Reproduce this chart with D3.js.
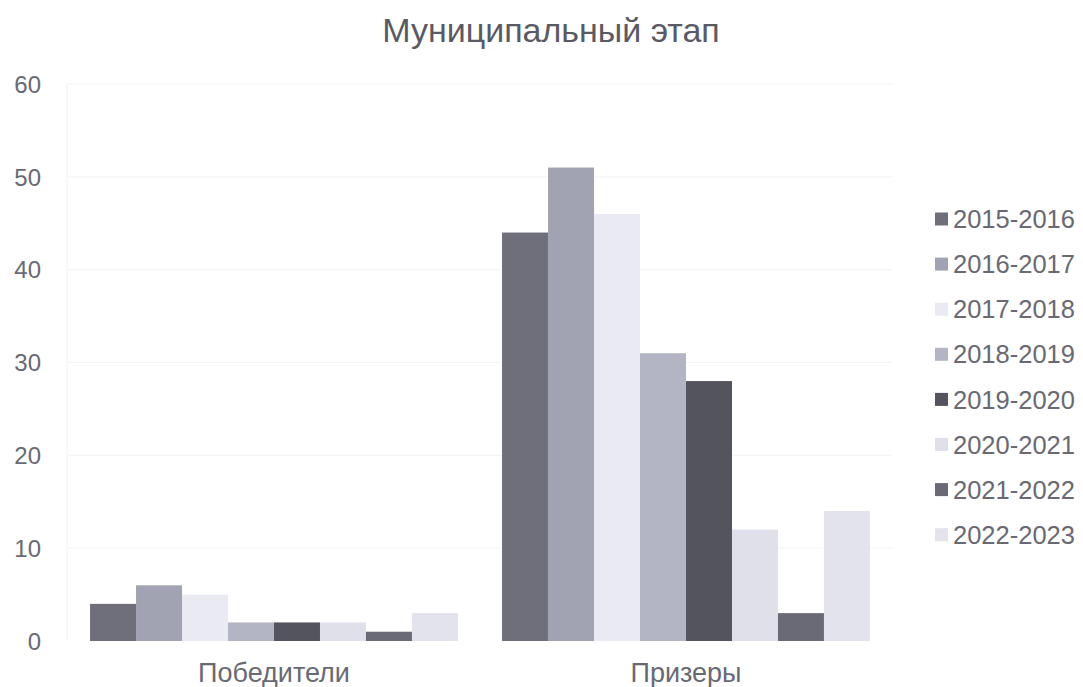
<!DOCTYPE html>
<html><head><meta charset="utf-8">
<script src="https://cdn.jsdelivr.net/npm/d3@7"></script>
<style>body{margin:0;background:#fff;}svg{display:block;font-family:"Liberation Sans",Arial,sans-serif;}</style>
</head><body>
<svg id="c" width="1083" height="687"></svg>
<script>
const categories = ["Победители", "Призеры"];
const seasons = ["2015-2016","2016-2017","2017-2018","2018-2019","2019-2020","2020-2021","2021-2022","2022-2023"];
const winners = [4, 6, 5, 2, 2, 2, 1, 3];
const prizewinners = [44, 51, 46, 31, 28, 12, 3, 14];
const yTicks = [0, 10, 20, 30, 40, 50, 60];
const colors = ["#6f6f7b","#a2a3b2","#e9eaf2","#b3b5c5","#54545f","#dfe0ea","#696a76","#e2e3ec"];
const title = "Муниципальный этап";

const values = [winners, prizewinners];
const svg = d3.select("#c");
const L = 68, R = 892, T = 84, B = 641;
const textColor = "#696973";

const x0 = d3.scaleBand().domain(categories).range([L, R]).paddingInner(0.107).paddingOuter(0.0535);
const x1 = d3.scaleBand().domain(seasons).range([0, x0.bandwidth()]).padding(0);
const y = d3.scaleLinear().domain([0, 60]).range([B, T]);

// gridlines
svg.append("g").selectAll("line").data(yTicks.slice(1)).join("line")
  .attr("x1", L).attr("x2", R).attr("y1", d => y(d)).attr("y2", d => y(d))
  .attr("stroke", "#f3f3f5").attr("stroke-width", 1);
// faint vertical axis line
svg.append("line").attr("x1", L-1).attr("x2", L-1).attr("y1", T).attr("y2", B)
  .attr("stroke", "#f1f1f3");

// y axis
const yAxis = svg.append("g").attr("transform", `translate(${L-27},0)`)
  .call(d3.axisLeft(y).tickValues(yTicks).tickSize(0).tickPadding(0));
yAxis.select(".domain").remove();
yAxis.selectAll("text").attr("fill", textColor).attr("font-size", 24).attr("dy", "0.34em");

// bars
const groups = svg.append("g").selectAll("g").data(categories).join("g")
  .attr("transform", d => `translate(${x0(d)},0)`);
groups.selectAll("rect").data((c, ci) => seasons.map((s, si) => ({s, si, v: values[ci][si]})))
  .join("rect")
  .attr("x", d => x1(d.s)).attr("width", x1.bandwidth())
  .attr("y", d => y(d.v)).attr("height", d => B - y(d.v))
  .attr("fill", d => colors[d.si]);

// x axis labels
const xAxis = svg.append("g").attr("transform", `translate(0,${B+15})`)
  .call(d3.axisBottom(x0).tickSize(0).tickPadding(0));
xAxis.select(".domain").remove();
xAxis.selectAll("text").attr("fill", textColor).attr("font-size", 27).attr("dy", "0.95em");

// title
svg.append("text").attr("x", 551).attr("y", 42).attr("text-anchor", "middle")
  .attr("font-size", 34).attr("fill", "#5a5a64").text(title);

// legend
const lg = svg.append("g").selectAll("g").data(seasons).join("g")
  .attr("transform", (d, i) => `translate(935,${219 + i*45.1})`);
lg.append("rect").attr("x", 0).attr("y", -6.5).attr("width", 13).attr("height", 13)
  .attr("fill", (d, i) => colors[i]);
lg.append("text").attr("x", 18).attr("y", 0).attr("dy", "0.36em")
  .attr("font-size", 25.5).attr("fill", textColor).text(d => d);
</script>
</body></html>
